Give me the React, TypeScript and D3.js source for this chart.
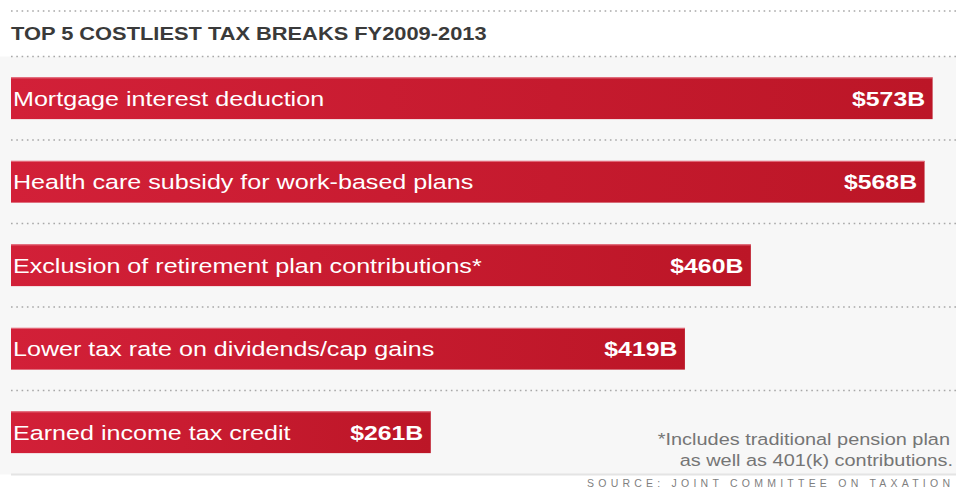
import React from "react";
import * as d3 from "d3";

const categories = [
  "Mortgage interest deduction",
  "Health care subsidy for work-based plans",
  "Exclusion of retirement plan contributions*",
  "Lower tax rate on dividends/cap gains",
  "Earned income tax credit",
];
const values = [573, 568, 460, 419, 261];
const valueLabels = ["$573B", "$568B", "$460B", "$419B", "$261B"];
const title = "TOP 5 COSTLIEST TAX BREAKS FY2009-2013";
const footnote = ["*Includes traditional pension plan", "as well as 401(k) contributions."];
const source = "SOURCE: JOINT COMMITTEE ON TAXATION";

const W = 956;
const H = 488;
const FONT = "'Liberation Sans', Arial, sans-serif";
const SX = 1.2; // horizontal stretch of the original artwork

function tr(x: number, y: number, s = SX) {
  return `translate(${x},${y}) scale(${s},1)`;
}

export default function App() {
  const x = d3.scaleLinear().domain([0, 573]).range([11, 932.6]);
  const y = d3
    .scaleBand<string>()
    .domain(categories)
    .range([56.5, 56.5 + 5 * 83.5])
    .paddingInner(0.5)
    .paddingOuter(0.25);
  const step = y.step();
  const gapHalf = (step - y.bandwidth()) / 2;

  return (
    <svg
      width={W}
      height={H}
      style={{ position: "absolute", left: 0, top: 0 }}
      fontFamily={FONT}
    >
      <defs>
        <linearGradient id="barGrad" x1="0" x2="1" y1="0" y2="0">
          <stop offset="0%" stopColor="#d22038" />
          <stop offset="100%" stopColor="#bc1627" />
        </linearGradient>
      </defs>
      <rect x={0} y={0} width={W} height={H} fill="#ffffff" />
      <rect x={0} y={56.5} width={W} height={418} fill="#f7f7f7" />

      <line x1={11} x2={W} y1={11} y2={11} stroke="#a8a8a8" strokeWidth={1.3} strokeDasharray="1.6 3.7" />
      <text transform={tr(11, 40)} fontSize={18.2} fontWeight="bold" fill="#3a3a3a">
        {title}
      </text>

      {categories.map((c, i) => {
        const top = y(c)!;
        const ly = top - gapHalf;
        return (
          <line
            key={"sep" + i}
            x1={11}
            x2={W}
            y1={ly}
            y2={ly}
            stroke="#a8a8a8"
            strokeWidth={1.3}
            strokeDasharray="1.6 3.7"
          />
        );
      })}

      {categories.map((c, i) => {
        const top = y(c)!;
        const bw = y.bandwidth();
        const x0 = x(0);
        const x1 = x(values[i]);
        const cy = top + bw / 2;
        return (
          <g key={c}>
            <rect x={x0} y={top} width={x1 - x0} height={bw} fill="url(#barGrad)" />
            <line x1={x0} x2={x1} y1={top + 0.5} y2={top + 0.5} stroke="#e57080" strokeWidth={1} />
            <text transform={tr(x0 + 2, cy + 7.5, 1.225)} fontSize={20.5} fill="#ffffff">
              {c}
            </text>
            <text
              transform={tr(x1 - 7.5, cy + 7.5, 1.21)}
              fontSize={20.5}
              fontWeight="bold"
              fill="#ffffff"
              textAnchor="end"
            >
              {valueLabels[i]}
            </text>
          </g>
        );
      })}

      <line x1={11} x2={W} y1={474.5} y2={474.5} stroke="#e4e4e4" strokeWidth={2} />

      <text transform={tr(950, 445)} fontSize={16.6} fill="#757575" textAnchor="end">
        {footnote[0]}
      </text>
      <text transform={tr(953, 466)} fontSize={16.6} fill="#757575" textAnchor="end">
        {footnote[1]}
      </text>
      <text
        x={587}
        y={487}
        fontSize={10.5}
        fill="#7f7f7f"
        textLength={363}
        lengthAdjust="spacing"
      >
        {source}
      </text>
    </svg>
  );
}
